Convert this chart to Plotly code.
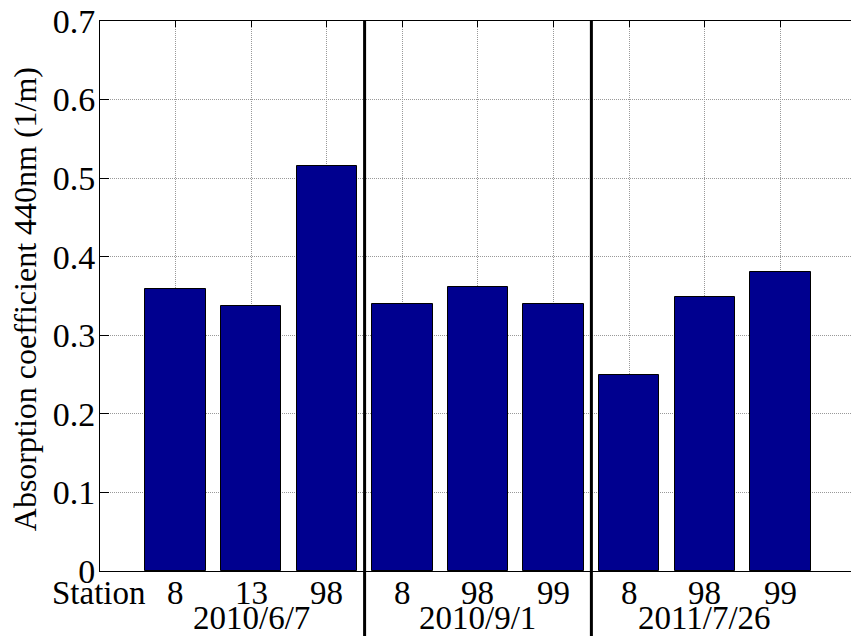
import plotly.graph_objects as go

# Sampling campaigns and their stations
dates = ["2010/6/7", "2010/9/1", "2011/7/26"]
stations = ["8", "13", "98", "8", "98", "99", "8", "98", "99"]
# Absorption coefficient at 440 nm (1/m) for each station, in campaign order
absorption = [0.359, 0.337, 0.515, 0.340, 0.362, 0.340, 0.250, 0.349, 0.380]
ytick_vals = [0, 0.1, 0.2, 0.3, 0.4, 0.5, 0.6, 0.7]
ytick_text = ["0", "0.1", "0.2", "0.3", "0.4", "0.5", "0.6", "0.7"]

FONT = "Liberation Serif, Times New Roman, Times, serif"
positions = list(range(1, len(stations) + 1))
group_size = len(stations) // len(dates)

fig = go.Figure(
    go.Bar(
        x=positions,
        y=absorption,
        width=0.8,
        marker=dict(color="#00008F", line=dict(color="black", width=1)),
        showlegend=False,
    )
)

# Vertical separators between campaigns, reaching below the axis
for g in range(1, len(dates)):
    xs = g * group_size + 0.5
    fig.add_shape(
        type="line", xref="x", yref="paper",
        x0=xs, x1=xs, y0=-0.118, y1=1.0,
        line=dict(color="black", width=3),
    )

label_font = dict(family=FONT, size=33, color="black")

# Station numbers under each bar
for p, s in zip(positions, stations):
    fig.add_annotation(
        x=p, xref="x", y=-0.04, yref="paper", xanchor="center", yanchor="middle",
        text=s, showarrow=False, font=label_font,
    )

fig.add_annotation(
    x=0.64, xref="x", y=-0.04, yref="paper", xanchor="right", yanchor="middle",
    text="Station", showarrow=False, font=label_font,
)

# Campaign dates under the station numbers
for g, d in enumerate(dates):
    fig.add_annotation(
        x=g * group_size + (group_size + 1) / 2, xref="x",
        y=-0.0855, yref="paper", yanchor="middle", xanchor="center",
        text=d, showarrow=False, font=dict(family=FONT, size=33, color="black"),
    )

fig.add_annotation(
    x=-0.1, xref="paper", y=0.494, yref="paper", xanchor="center", yanchor="middle",
    textangle=-90, text="Absorption coefficient 440nm (1/m)", showarrow=False,
    font=dict(family=FONT, size=32, color="black"),
)

grid = dict(showgrid=True, gridcolor="#999999", gridwidth=1, griddash="1px,1px")

fig.update_layout(
    width=851, height=639,
    margin=dict(l=100, r=0, t=21, b=68),
    paper_bgcolor="white", plot_bgcolor="white",
    font=dict(family=FONT, size=33, color="black"),
    xaxis=dict(
        range=[0, 9.934], tickvals=positions, showticklabels=False,
        ticks="inside", ticklen=6, tickcolor="black",
        showline=True, linecolor="black", linewidth=1, mirror="ticks",
        zeroline=False, layer="below traces",
        **grid,
    ),
    yaxis=dict(
        range=[0, 0.7], tickvals=ytick_vals, ticktext=ytick_text,
        ticks="inside", ticklen=9, tickcolor="black",
        showline=True, linecolor="black", linewidth=1,
        zeroline=False, tickfont=dict(family=FONT, size=34),
        ticklabelstandoff=-3,
        **grid,
    ),
    bargap=0,
)

fig.write_html("out.html")
